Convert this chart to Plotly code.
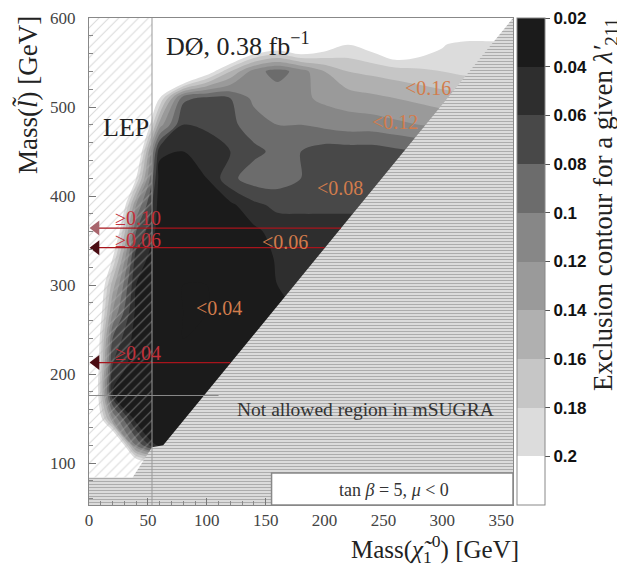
import plotly.graph_objects as go

# ---------------- data ----------------
chi_mass = [0, 20, 40, 60, 80, 100, 120, 140, 160, 180, 200, 220, 240, 260, 280, 300, 320, 340, 360]
slepton_mass = [60, 90, 120, 150, 180, 210, 240, 270, 300, 330, 360, 390, 420, 450, 480, 510, 540, 570, 600, 630]

# lambda'_211 exclusion limit, one row per slepton mass (0.3 = no limit)
lam_y060 = [.3] * 19
lam_y090 = [.3] * 19
lam_y120 = [.3, .3, .1, .03, .035, .04, .04, .04, .04, .04, .04, .04, .04, .04, .04, .04, .04, .04, .04]
lam_y150 = [.3, .12, .03, .03, .035, .035, .035, .035, .035, .035, .035, .035, .035, .035, .035, .035, .035, .035, .035]
lam_y180 = [.3, .04, .028, .025, .028, .035, .035, .035, .035, .035, .035, .035, .035, .035, .035, .035, .035, .035, .035]
lam_y210 = [.3, .06, .028, .025, .022, .028, .035, .035, .035, .035, .035, .035, .035, .035, .035, .035, .035, .035, .035]
lam_y240 = [.3, .08, .03, .025, .02, .022, .03, .04, .04, .04, .04, .04, .04, .04, .04, .04, .04, .04, .04]
lam_y270 = [.3, .12, .035, .025, .02, .02, .022, .035, .04, .04, .04, .04, .04, .04, .04, .04, .04, .04, .04]
lam_y300 = [.3, .15, .04, .025, .02, .02, .022, .03, .04, .042, .042, .042, .042, .042, .042, .042, .042, .042, .042]
lam_y330 = [.3, .2, .05, .028, .022, .022, .025, .03, .042, .045, .045, .045, .045, .045, .045, .045, .045, .045, .045]
lam_y360 = [.3, .25, .08, .03, .025, .025, .028, .035, .048, .05, .05, .05, .05, .05, .05, .05, .05, .05, .05]
lam_y390 = [.3, .3, .12, .03, .025, .028, .035, .055, .065, .065, .065, .065, .065, .065, .065, .065, .065, .065, .065]
lam_y420 = [.3, .3, .2, .03, .028, .04, .075, .09, .09, .08, .068, .068, .068, .07, .07, .07, .07, .07, .07]
lam_y450 = [.3, .3, .25, .045, .04, .045, .06, .075, .085, .08, .07, .07, .07, .075, .08, .08, .08, .08, .08]
lam_y480 = [.3, .3, .3, .13, .06, .065, .075, .09, .1, .1, .105, .11, .11, .115, .12, .125, .13, .135, .14]
lam_y510 = [.3, .3, .3, .2, .085, .075, .08, .105, .115, .115, .125, .13, .135, .14, .145, .15, .155, .16, .165]
lam_y540 = [.3, .3, .3, .3, .3, .22, .16, .11, .09, .11, .14, .16, .165, .17, .175, .18, .185, .185, .19]
lam_y570 = [.3, .3, .3, .3, .3, .3, .3, .25, .23, .25, .22, .2, .213, .239, .222, .203, .185, .185, .19]
lam_y600 = [.3] * 19
lam_y630 = [.3] * 19

lam_rows = [lam_y060, lam_y090, lam_y120, lam_y150, lam_y180, lam_y210, lam_y240, lam_y270,
            lam_y300, lam_y330, lam_y360, lam_y390, lam_y420, lam_y450, lam_y480, lam_y510,
            lam_y540, lam_y570, lam_y600, lam_y630]

levels = [0.02, 0.04, 0.06, 0.08, 0.1, 0.12, 0.14, 0.16, 0.18, 0.2]
level_labels = ["0.02", "0.04", "0.06", "0.08", "0.1", "0.12", "0.14", "0.16", "0.18", "0.2"]

# regions
notallowed_x = [0, 0, 37, 53.5, 63, 360, 360]
notallowed_y = [53, 84, 84, 118, 120, 600, 53]
lep_x = [0, 37, 53.5, 53.5, 0]
lep_y = [84, 84, 118, 600, 600]

# D0 limit markers
limit_y = [364, 342, 213]
limit_x_end = [214, 200, 120]
limit_text = ["≥0.10", "≥0.06", "≥0.04"]
limit_text_y = [375, 351, 224]
limit_marker_colors = ["#a8646c", "#4a0c12", "#4a0c12"]

region_text = ["&lt;0.04", "&lt;0.06", "&lt;0.08", "&lt;0.12", "&lt;0.16"]
region_x = [110, 166, 213, 260, 288]
region_y = [274, 348, 409, 483, 521]

# ---------------- figure ----------------
band_colors = ["#ffffff", "#dcdcdc", "#c6c6c6", "#b0b0b0", "#9a9a9a",
               "#878787", "#6c6c6c", "#484848", "#2e2e2e", "#1b1b1b"]
cscale = []
for i, c in enumerate(band_colors):
    cscale.append([i / 10, c])
    cscale.append([(i + 1) / 10, c])

fig = go.Figure()

fig.add_trace(go.Contour(
    x=chi_mass, y=slepton_mass,
    z=[[-v for v in row] for row in lam_rows],
    zmin=-0.22, zmax=-0.02,
    contours=dict(start=-0.22, end=-0.02, size=0.02, coloring="fill", showlines=False),
    line=dict(width=0, smoothing=0.9),
    colorscale=cscale,
    colorbar=dict(
        tickvals=[-v for v in levels], ticktext=level_labels,
        tickfont=dict(family="Liberation Sans", size=17, color="#111", weight="bold"),
        len=1, lenmode="fraction", y=0.5, yanchor="middle", ypad=0,
        x=1.0094, xanchor="left", xpad=0, thickness=28,
        outlinewidth=1, outlinecolor="#888",
        ticks="outside", ticklen=5, tickcolor="#555",
    ),
    hoverinfo="skip",
))

# LEP hatched region
fig.add_trace(go.Scatter(
    x=lep_x, y=lep_y, mode="lines", fill="toself", line=dict(width=0),
    fillcolor="rgba(0,0,0,0)",
    fillpattern=dict(shape="/", fgcolor="#b4b4b4", bgcolor="rgba(0,0,0,0)", size=7, solidity=0.15),
    hoverinfo="skip",
))

# not allowed (dotted) region
fig.add_trace(go.Scatter(
    x=notallowed_x, y=notallowed_y, mode="lines", fill="toself", line=dict(width=0),
    fillcolor="#eaeaea",
    fillpattern=dict(shape="-", fgcolor="#6e6e6e", bgcolor="#eaeaea", size=3, solidity=0.5),
    hoverinfo="skip",
))

# limit lines
for yv, xe, col in zip(limit_y, limit_x_end, limit_marker_colors):
    fig.add_trace(go.Scatter(x=[6, xe], y=[yv, yv], mode="lines",
                             line=dict(color="#a8141c", width=1.3), hoverinfo="skip"))
    fig.add_trace(go.Scatter(x=[6], y=[yv], mode="markers",
                             marker=dict(symbol="triangle-left", size=13, color=col), hoverinfo="skip"))

serif = "Liberation Serif"
ann = []
for t, yv in zip(limit_text, limit_text_y):
    ann.append(dict(x=20, y=yv, xref="x", yref="y", text=t, showarrow=False, xanchor="left",
                    font=dict(family=serif, size=20, color="#c3303a")))
for t, xv, yv in zip(region_text, region_x, region_y):
    ann.append(dict(x=xv, y=yv, xref="x", yref="y", text=t, showarrow=False,
                    font=dict(family=serif, size=20, color="#d27c4c")))
ann += [
    dict(x=126.5, y=570, xref="x", yref="y", text="DØ, 0.38 fb<sup>−1</sup>", showarrow=False,
         font=dict(family=serif, size=26, color="#222")),
    dict(x=31, y=477, xref="x", yref="y", text="LEP", showarrow=False,
         font=dict(family=serif, size=26, color="#222")),
    dict(x=235, y=160, xref="x", yref="y", text="Not allowed region in mSUGRA", showarrow=False,
         font=dict(family=serif, size=19.5, color="#333")),
    dict(x=259, y=70, xref="x", yref="y", text="tan <i>β</i> = 5, <i>μ</i> &lt; 0", showarrow=False,
         font=dict(family=serif, size=18, color="#333")),
    dict(x=-0.146, y=0.842, xref="paper", yref="paper", xanchor="center", yanchor="middle",
         text="Mass(<i>l̃</i>) [GeV]", showarrow=False,
         textangle=-90, font=dict(family=serif, size=27, color="#222")),
    dict(x=0.816, y=-0.09, xref="paper", yref="paper", xanchor="center", yanchor="middle",
         text="Mass(<i>χ̃</i><sub>1</sub><sup>0</sup>) [GeV]", showarrow=False,
         font=dict(family=serif, size=25, color="#222")),
    dict(x=1.217, y=0.616, xref="paper", yref="paper", xanchor="center", yanchor="middle",
         text="Exclusion contour for a given <i>λ′</i><sub>211</sub>", showarrow=False,
         textangle=-90, font=dict(family=serif, size=27, color="#222")),
]

shapes = [
    dict(type="rect", x0=155, x1=360, y0=53, y1=89, xref="x", yref="y",
         fillcolor="white", line=dict(color="#888", width=1.5), layer="above"),
    dict(type="line", x0=53.5, x1=53.5, y0=53, y1=600, xref="x", yref="y",
         line=dict(color="#999", width=1), layer="above"),
    dict(type="line", x0=0, x1=110, y0=176, y1=176, xref="x", yref="y",
         line=dict(color="#8a8a8a", width=1), layer="above"),
]

# page body adds an 8px offset; figure is sized so the plot lands where the reference has it
fig.update_layout(
    width=617, height=558,
    margin=dict(l=81, r=112, t=10, b=61, autoexpand=False),
    paper_bgcolor="white", plot_bgcolor="white",
    showlegend=False,
    annotations=ann, shapes=shapes,
    xaxis=dict(range=[0, 360], tickvals=[0, 50, 100, 150, 200, 250, 300, 350],
               ticks="inside", ticklen=7, tickcolor="#777",
               minor=dict(dtick=10, ticks="inside", ticklen=4, tickcolor="#888"),
               showline=True, linecolor="#888", linewidth=1, mirror=True,
               showgrid=False, zeroline=False, ticklabelstandoff=0, automargin=False,
               tickfont=dict(family=serif, size=17, color="#444")),
    yaxis=dict(range=[53, 600], tickvals=[100, 200, 300, 400, 500, 600],
               ticks="inside", ticklen=7, tickcolor="#777",
               minor=dict(dtick=20, ticks="inside", ticklen=4, tickcolor="#888"),
               showline=True, linecolor="#888", linewidth=1, mirror=True,
               showgrid=False, zeroline=False, ticklabelstandoff=9, automargin=False,
               tickfont=dict(family=serif, size=17, color="#444")),
)

fig.write_html("out.html")
